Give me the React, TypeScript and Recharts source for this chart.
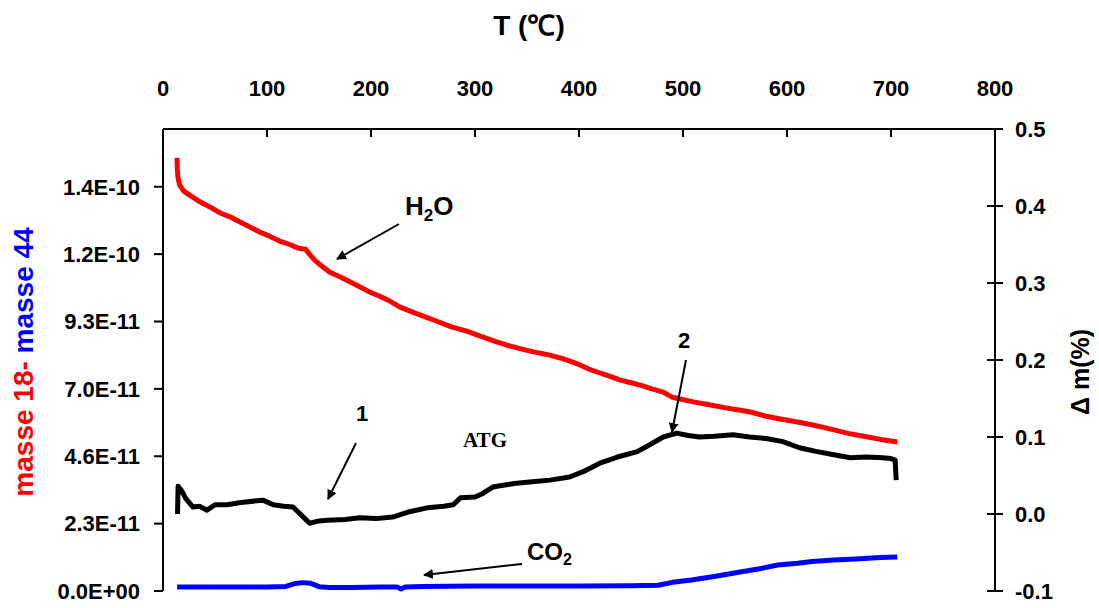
import React from "react";
import { ComposedChart, Line, XAxis, YAxis } from "recharts";

const FONT = "'Liberation Sans', Arial, sans-serif";

const tempTicks = [0, 100, 200, 300, 400, 500, 600, 700, 800];
const massTicks = [0, 7 / 3, 14 / 3, 7, 28 / 3, 35 / 3, 14];
const massTickLabels = ["0.0E+00", "2.3E-11", "4.6E-11", "7.0E-11", "9.3E-11", "1.2E-10", "1.4E-10"];
const dmTicks = [-0.1, 0, 0.1, 0.2, 0.3, 0.4, 0.5];

// masse 18 (H2O), in 1E-11
const h2oT = [13.5, 13.8, 14.5, 16, 20, 26, 36, 45, 55, 65, 74, 84, 93, 103, 112, 122, 128, 132, 137, 141, 146, 151, 160, 170, 180, 190, 199, 209, 218, 228, 237, 247, 262, 278, 292, 305, 320, 334, 348, 362, 372, 382, 392, 401, 410, 420, 430, 439, 449, 459, 470, 481, 489, 497, 510, 525, 540, 555, 565, 580, 595, 610, 625, 645, 660, 675, 690, 706];
const h2oVal = [15.0, 14.6, 14.3, 14.06, 13.85, 13.7, 13.47, 13.3, 13.09, 12.95, 12.78, 12.6, 12.43, 12.28, 12.12, 12.0, 11.9, 11.86, 11.84, 11.66, 11.45, 11.3, 11.05, 10.88, 10.7, 10.52, 10.35, 10.2, 10.04, 9.83, 9.7, 9.56, 9.36, 9.14, 9.0, 8.83, 8.64, 8.48, 8.35, 8.24, 8.17, 8.07, 7.95, 7.83, 7.68, 7.55, 7.43, 7.31, 7.22, 7.13, 7.0, 6.89, 6.72, 6.65, 6.55, 6.45, 6.35, 6.26, 6.2, 6.05, 5.95, 5.85, 5.75, 5.58, 5.45, 5.35, 5.25, 5.16];

// masse 44 (CO2), in 1E-11
const co2T = [13.5, 50, 100, 118, 126, 134, 142, 150, 160, 180, 210, 225, 229, 233, 250, 300, 350, 400, 450, 476, 490, 508, 530, 555, 575, 591, 610, 624, 645, 666, 690, 706];
const co2Val = [0.14, 0.14, 0.14, 0.16, 0.25, 0.29, 0.27, 0.15, 0.12, 0.12, 0.14, 0.14, 0.07, 0.14, 0.16, 0.17, 0.17, 0.17, 0.18, 0.2, 0.3, 0.38, 0.5, 0.66, 0.78, 0.9, 0.96, 1.02, 1.07, 1.11, 1.16, 1.18];

// ATG, delta m (%)
const atgT = [14, 14.5, 18, 22, 28.8, 35, 42.3, 50, 61.5, 75, 96, 106, 116, 125, 135, 141, 150, 158, 175, 189, 205, 221, 237, 254, 270, 279, 286, 300, 308, 317, 330, 340, 355, 372, 391, 404, 420, 437, 456, 468, 481, 494, 505, 516, 530, 548, 564, 580, 596, 612, 629, 645, 661, 676, 692, 700, 704, 705];
const atgVal = [0.0, 0.036, 0.03, 0.02, 0.009, 0.01, 0.005, 0.012, 0.012, 0.015, 0.018, 0.012, 0.01, 0.009, -0.004, -0.012, -0.009, -0.008, -0.007, -0.005, -0.006, -0.004, 0.003, 0.008, 0.01, 0.012, 0.021, 0.022, 0.027, 0.035, 0.038, 0.04, 0.042, 0.044, 0.048, 0.055, 0.066, 0.074, 0.081, 0.09, 0.1, 0.105, 0.102, 0.1, 0.101, 0.103, 0.1, 0.098, 0.094, 0.086, 0.081, 0.077, 0.073, 0.074, 0.073, 0.072, 0.07, 0.044];

const toPoints = (t: number[], v: number[]) => t.map((x, i) => ({ t: x, v: v[i] }));

const h2oData = toPoints(h2oT, h2oVal);
const co2Data = toPoints(co2T, co2Val);
const atgData = toPoints(atgT, atgVal);

const tickStyle = { fill: "#000", fontSize: 22, fontWeight: 700, fontFamily: FONT };

function RightTick(props: any) {
  const { x, y, payload } = props;
  const axisX = x - 20;
  return (
    <g>
      <line x1={axisX - 8} x2={axisX + 8} y1={y} y2={y} stroke="#000" strokeWidth={2} />
      <text x={x} y={y} dy="0.355em" textAnchor="start" {...tickStyle}>
        {Number(payload.value).toFixed(1)}
      </text>
    </g>
  );
}

function Arrow({ x1, y1, x2, y2 }: { x1: number; y1: number; x2: number; y2: number }) {
  return <line x1={x1} y1={y1} x2={x2} y2={y2} stroke="#000" strokeWidth={2} markerEnd="url(#arrowHead)" />;
}

export default function App() {
  return (
    <div style={{ position: "absolute", left: 0, top: 0, width: 1099, height: 608, background: "#fff" }}>
      <ComposedChart width={1099} height={608} margin={{ top: 0, right: 0, bottom: 17, left: 0 }}>
        <XAxis
          dataKey="t"
          type="number"
          orientation="top"
          domain={[0, 800]}
          ticks={tempTicks}
          height={129}
          tickSize={-8}
          tickMargin={41}
          axisLine={{ stroke: "#000", strokeWidth: 2 }}
          tickLine={{ stroke: "#000", strokeWidth: 2 }}
          tick={tickStyle}
          allowDataOverflow
        />
        <YAxis
          yAxisId="mass"
          type="number"
          domain={[0, 16]}
          ticks={massTicks}
          width={163}
          tickSize={9}
          tickMargin={14}
          tickFormatter={(_v: number, i: number) => massTickLabels[i]}
          axisLine={{ stroke: "#000", strokeWidth: 2 }}
          tickLine={{ stroke: "#000", strokeWidth: 2 }}
          tick={tickStyle}
          interval={0}
        />
        <YAxis
          yAxisId="dm"
          orientation="right"
          type="number"
          domain={[-0.1, 0.5]}
          ticks={dmTicks}
          width={104}
          tickSize={8}
          tickMargin={12}
          tickLine={false}
          axisLine={{ stroke: "#000", strokeWidth: 2 }}
          tick={<RightTick />}
          interval={0}
        />
        <Line
          yAxisId="mass"
          data={h2oData}
          dataKey="v"
          type="linear"
          stroke="#ff0000"
          strokeWidth={5}
          strokeLinejoin="round"
          dot={false}
          isAnimationActive={false}
        />
        <Line
          yAxisId="mass"
          data={co2Data}
          dataKey="v"
          type="linear"
          stroke="#0000ff"
          strokeWidth={5}
          strokeLinejoin="round"
          dot={false}
          isAnimationActive={false}
        />
        <Line
          yAxisId="dm"
          data={atgData}
          dataKey="v"
          type="linear"
          stroke="#000"
          strokeWidth={5}
          strokeLinejoin="round"
          dot={false}
          isAnimationActive={false}
        />
      </ComposedChart>

      <svg
        width={1099}
        height={608}
        style={{ position: "absolute", left: 0, top: 0, pointerEvents: "none" }}
        fontFamily={FONT}
        fontWeight={700}
      >
        <defs>
          <marker id="arrowHead" viewBox="0 0 10 10" refX="9" refY="5" markerWidth="5" markerHeight="5" orient="auto">
            <path d="M0,0 L10,5 L0,10 z" fill="#000" />
          </marker>
        </defs>

        <text x={529} y={35} textAnchor="middle" fontSize={28}>T (℃)</text>

        <text transform="translate(33,362) rotate(-90)" textAnchor="middle" fontSize={28}>
          <tspan fill="#ff0000">masse 18- </tspan>
          <tspan fill="#0000ff">masse 44</tspan>
        </text>

        <text transform="translate(1089,372) rotate(-90)" textAnchor="middle" fontSize={25}>Δ m(%)</text>

        <text x={405} y={215} fontSize={26}>
          H<tspan fontSize={17} dy={6}>2</tspan><tspan dy={-6}>O</tspan>
        </text>
        <Arrow x1={399} y1={224} x2={337} y2={259} />

        <text x={362} y={421} textAnchor="middle" fontSize={22}>1</text>
        <Arrow x1={356} y1={443} x2={328} y2={499} />

        <text x={684} y={348} textAnchor="middle" fontSize={22}>2</text>
        <Arrow x1={686} y1={360} x2={672} y2={432} />

        <text x={485} y={447} textAnchor="middle" fontSize={21} fontFamily="'Liberation Serif', 'Times New Roman', serif">ATG</text>

        <text x={527} y={560} fontSize={24}>
          CO<tspan fontSize={16} dy={5}>2</tspan>
        </text>
        <Arrow x1={522} y1={564} x2={424} y2={575} />
      </svg>
    </div>
  );
}
